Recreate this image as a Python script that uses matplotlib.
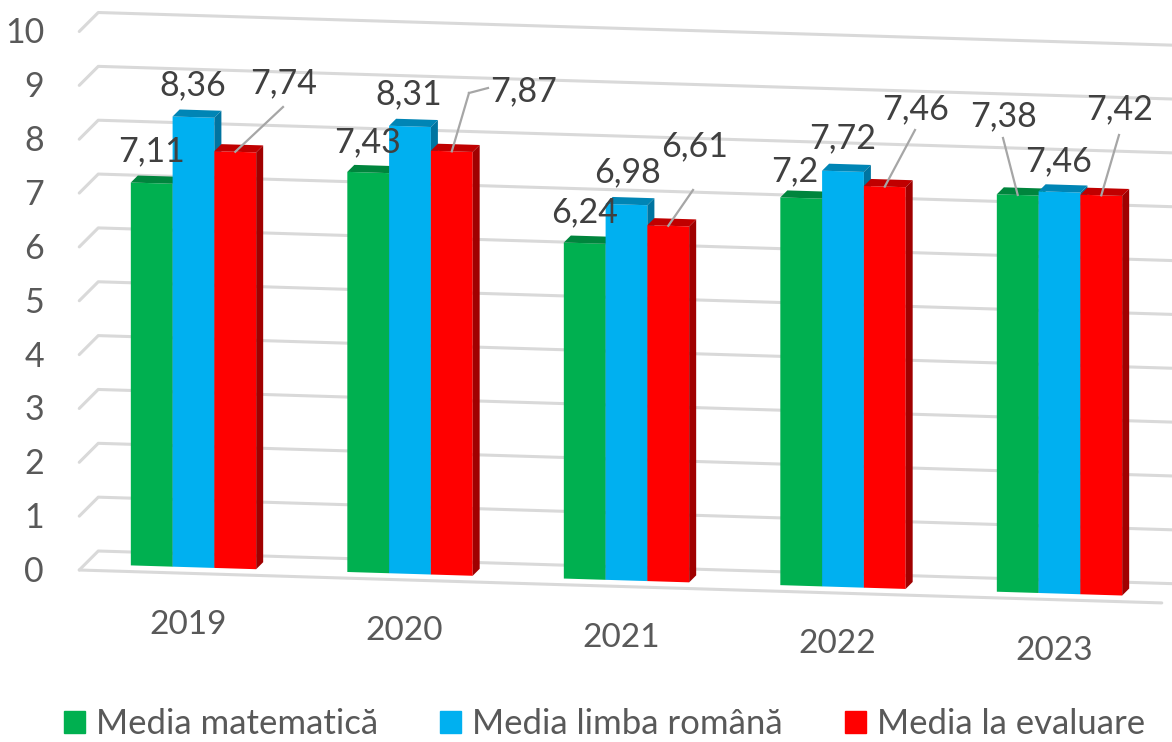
import matplotlib
matplotlib.use("Agg")
import matplotlib.pyplot as plt
from matplotlib.patches import Patch
from matplotlib.transforms import Affine2D

years = ["2019", "2020", "2021", "2022", "2023"]
math_avg = [7.11, 7.43, 6.24, 7.2, 7.38]
romanian_avg = [8.36, 8.31, 6.98, 7.72, 7.46]
eval_avg = [7.74, 7.87, 6.61, 7.46, 7.42]
series_names = ["Media matematică", "Media limba română", "Media la evaluare"]
y_ticks = list(range(11))

front_colors = ["#00B050", "#00B0F0", "#FF0000"]
top_colors = ["#00853D", "#0085B5", "#C00000"]
side_colors = ["#006F33", "#0074A0", "#A00000"]

# label centres in image pixels, one row per series
math_label_pos = [(151, 151), (368, 142), (585, 212), (795, 171), (1003, 116)]
romanian_label_pos = [(193, 85), (409, 94), (627, 172), (843, 138), (1059, 161)]
eval_label_pos = [(284, 83), (524, 91), (695, 146), (916, 109), (1120, 109)]

bar_w = 0.193
bar_depth = 7
wall_depth = 13
floor_depth = -6


def depth(d):
	# moving d pixels back means +d right and +d up in the picture
	return d / 216.5, 1.0304 * d / 53.85


fig = plt.figure(figsize=(11.72, 7.42), dpi=100)
plt.rcParams['font.family'] = ['Lato', 'DejaVu Sans']
ax = fig.add_axes([0, 0, 1, 1])
ax.set_xlim(0, 1172)
ax.set_ylim(742, 0)
ax.axis("off")
ax.set_autoscale_on(False)

# category/value -> image pixels, tilted like the 3D view
skew = Affine2D.from_values(216.5, 6.58, 0, -53.85, 193.5, 567.3) + ax.transData

x_left, x_right = -0.5, 4.5
wx, wv = depth(wall_depth)
fx, fv = depth(floor_depth)
grid_kw = dict(color="#D9D9D9", lw=2.2, transform=skew, zorder=1, solid_capstyle="round")

for v in y_ticks:
	ax.plot([x_left + fx, x_left + wx, x_right + wx], [v + fv, v + wv, v + wv], **grid_kw)
	ax.text(-0.69, v - 0.17, str(v), transform=skew, ha="right", va="center",
		fontsize=24.5, color="#595959")
ax.plot([x_left + fx, x_right + fx], [fv, fv], **grid_kw)

bx, bv = depth(bar_depth)
all_series = [math_avg, romanian_avg, eval_avg]
all_pos = [math_label_pos, romanian_label_pos, eval_label_pos]
z = 3
for i in range(len(years)):
	for s, values in enumerate(all_series):
		v = values[i]
		left = i + (s - 1.5) * bar_w
		right = left + bar_w
		ax.bar(left, v, bar_w, align="edge", color=front_colors[s], transform=skew, zorder=z)
		ax.fill([left, right, right + bx, left + bx], [v, v, v + bv, v + bv],
			color=top_colors[s], lw=0, transform=skew, zorder=z)
		ax.fill([right, right + bx, right + bx, right], [0, bv, v + bv, v],
			color=side_colors[s], lw=0, transform=skew, zorder=z)
		z += 1
	ax.text(i - 0.025, -1.07, years[i], transform=skew, ha="center", va="center",
		fontsize=24, color="#595959")

# leader lines: which bar, and where the line leaves the label (image pixels)
leaders = [(2, 0, (283, 107)), (2, 1, (469, 93)), (2, 2, (693, 190)),
	(2, 3, (915, 130)), (0, 4, (1003, 138)), (2, 4, (1119, 135))]
for s, i, end in leaders:
	x_top = i + (s - 1) * bar_w
	px, py = skew.transform((x_top, all_series[s][i]))
	dpx, dpy = ax.transData.inverted().transform((px, py))
	ax.plot([dpx, end[0]], [dpy, end[1]], color="#A6A6A6", lw=1.6, zorder=60)
ax.plot([469, 488], [93, 88], color="#A6A6A6", lw=1.6, zorder=60)

for s, values in enumerate(all_series):
	for i, v in enumerate(values):
		px, py = all_pos[s][i]
		ax.text(px, py, str(v).replace(".", ","), ha="center", va="center",
			fontsize=24.5, color="#404040", zorder=70)

handles = [Patch(color=c) for c in front_colors]
ax.legend(handles, series_names, ncol=3, frameon=False, loc="center left",
	bbox_to_anchor=(64 / 1172, 1 - 724 / 742), borderpad=0, borderaxespad=0,
	handlelength=0.6, handleheight=0.6, handletextpad=0.32, columnspacing=1.79,
	fontsize=25, labelcolor="#595959")

fig.savefig("out.png", dpi=100)
